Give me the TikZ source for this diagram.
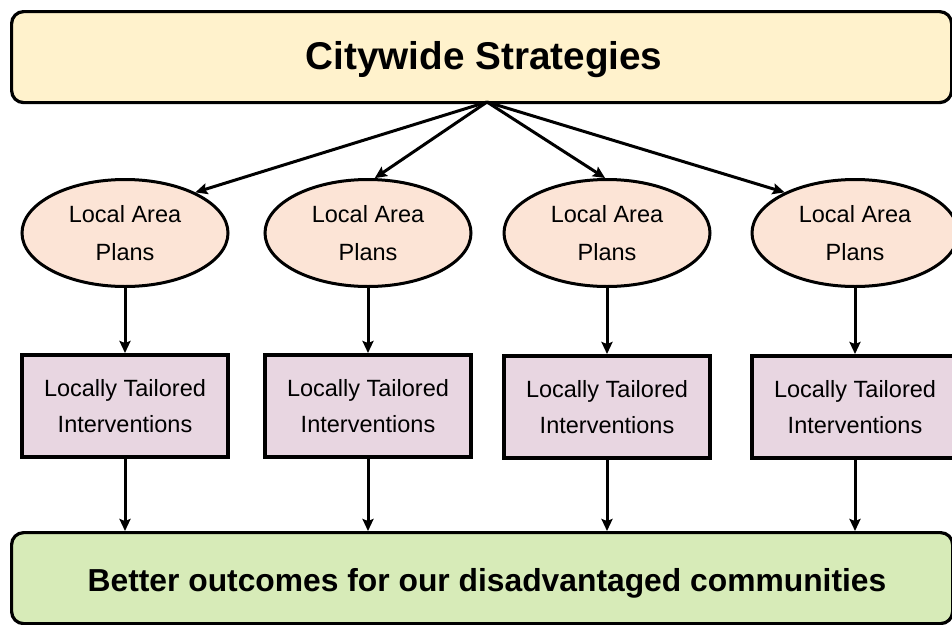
\documentclass[tikz,border=0pt]{standalone}
\usepackage{fontspec}
\setmainfont{Liberation Sans}
\usetikzlibrary{shapes.geometric,arrows.meta}
\definecolor{topfill}{HTML}{FFF2CC}
\definecolor{ellfill}{HTML}{FCE4D6}
\definecolor{boxfill}{HTML}{E8D6E1}
\definecolor{botfill}{HTML}{D7EBB8}
\tikzset{
  banner/.style={draw=black, line width=3.2pt, rounded corners=12pt, inner sep=0pt, anchor=north west},
  planell/.style={ellipse, draw=black, line width=3pt, fill=ellfill, minimum width=206pt, minimum height=107pt, inner sep=0pt, align=center, font=\fontsize{23.5}{38}\selectfont},
  intbox/.style={rectangle, draw=black, line width=4pt, fill=boxfill, minimum width=206pt, minimum height=102pt, inner sep=0pt, align=center, font=\fontsize{23.5}{36}\selectfont},
  arr/.style={draw=black, line width=3pt, -{Stealth[length=12pt,width=11pt,inset=2pt]}}
}
\begin{document}
\begin{tikzpicture}[x=1pt,y=-1pt]
\useasboundingbox (0,0) rectangle (952,624);
\clip (0,0) rectangle (952,624);
\fill[white] (0,0) rectangle (952,624);
% top banner
\node[banner, fill=topfill, minimum width=940pt, minimum height=91pt] (top) at (10,10) {};
\node[font=\fontsize{38.7}{44}\selectfont\bfseries, inner sep=0pt] (toptext) at (484,60) {Citywide Strategies};
\coordinate (apex) at (487,102);
% bottom banner
\node[banner, fill=botfill, minimum width=941pt, minimum height=91pt] (bot) at (10,531) {};
\node[font=\fontsize{31.8}{36}\selectfont\bfseries, inner sep=0pt] (bottext) at (487,583) {Better outcomes for our disadvantaged communities};
% ellipses
\node[planell] (e1) at (125,233) {Local Area\\Plans};
\node[planell] (e2) at (368,233) {Local Area\\Plans};
\node[planell] (e3) at (607,233) {Local Area\\Plans};
\node[planell] (e4) at (855,233) {Local Area\\Plans};
% boxes
\node[intbox] (b1) at (125,406) {Locally Tailored\\Interventions};
\node[intbox] (b2) at (368,406) {Locally Tailored\\Interventions};
\node[intbox] (b3) at (607,407) {Locally Tailored\\Interventions};
\node[intbox] (b4) at (855,407) {Locally Tailored\\Interventions};
% arrows from apex
\draw[arr] (apex) -- (e1.30);
\draw[arr] (apex) -- (e2.83);
\draw[arr] (apex) -- (e3.92);
\draw[arr] (apex) -- (e4.150);
% vertical arrows
\foreach \i in {1,2,3,4}{
  \draw[arr] (e\i.south) -- (b\i.north);
  \draw[arr] (b\i.south) -- (b\i.south |- bot.north);
}
\end{tikzpicture}
\end{document}
